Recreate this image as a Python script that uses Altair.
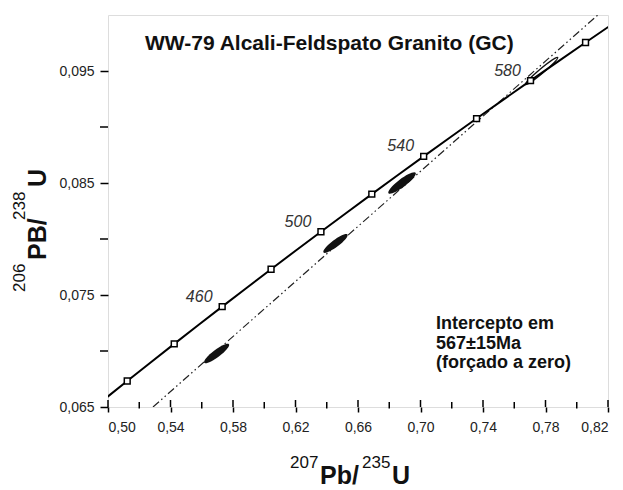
import altair as alt
import pandas as pd

# Concordia curve (age in Ma, 207Pb/235U, 206Pb/238U)
conc_age = [400, 410, 420, 430, 440, 450, 460, 470, 480, 490, 500, 510,
            520, 530, 540, 550, 560, 570, 580, 590, 600, 610, 620]
conc_x = [0.48281, 0.49748, 0.51230, 0.52727, 0.54239, 0.55765, 0.57307,
          0.58864, 0.60436, 0.62024, 0.63628, 0.65247, 0.66883, 0.68535,
          0.70203, 0.71887, 0.73588, 0.75307, 0.77041, 0.78794, 0.80563,
          0.82350, 0.84155]
conc_y = [0.064016, 0.065668, 0.067322, 0.068979, 0.070638, 0.072300,
          0.073965, 0.075632, 0.077302, 0.078975, 0.080650, 0.082327,
          0.084008, 0.085691, 0.087376, 0.089064, 0.090755, 0.092448,
          0.094144, 0.095843, 0.097544, 0.099248, 0.100955]

# Age ticks on concordia
marker_ages = [420, 440, 460, 480, 500, 520, 540, 560, 580, 600]
label_ages = [460, 500, 540, 580]

# Discordia (forced through zero, intercept 567 Ma)
disc_x = [0.5288, 0.8135]
disc_y = [0.065, 0.100]

# Error ellipses (centre, length in px)
ell_x = [0.5695, 0.6456, 0.6882]
ell_y = [0.06978, 0.0796, 0.0850]
ell_len = [31, 30, 34]
open_ell_x = [0.7775]
open_ell_y = [0.0950]
open_ell_len = [42]

x_labels = [0.50, 0.54, 0.58, 0.62, 0.66, 0.70, 0.74, 0.78, 0.82]
x_minor = [0.52, 0.56, 0.60, 0.64, 0.68, 0.72, 0.76, 0.80]
y_labels = [0.065, 0.075, 0.085, 0.095]
y_minor = [0.070, 0.080, 0.090]

title_text = "WW-79 Alcali-Feldspato Granito (GC)"
note_text = ["Intercepto em", "567±15Ma", "(forçado a zero)"]

FONT = "Liberation Sans"
W, H = 500, 392

conc = pd.DataFrame({"age": conc_age, "x": conc_x, "y": conc_y})
marks = conc[conc["age"].isin(marker_ages)]
labels = conc[conc["age"].isin(label_ages)].assign(lab=lambda d: d["age"].astype(str))
disc = pd.DataFrame({"x": disc_x, "y": disc_y})
ell = pd.DataFrame({"x": ell_x, "y": ell_y, "s": [v * v for v in ell_len]})
oell = pd.DataFrame({"x": open_ell_x, "y": open_ell_y, "s": [v * v for v in open_ell_len]})

xscale = alt.Scale(domain=[0.50, 0.82], nice=False, zero=False)
yscale = alt.Scale(domain=[0.065, 0.100], nice=False, zero=False)
xaxis = alt.Axis(values=x_labels, grid=False, domain=False, ticks=True, tickSize=5,
                 tickWidth=1.5, tickColor="black", labelFont=FONT, labelFontSize=14,
                 labelColor="#222", labelPadding=8, title=None,
                 labelExpr="replace(format(datum.value, '.2f'), '.', ',')")
yaxis = alt.Axis(values=y_labels, grid=False, domain=False, ticks=True, tickSize=8,
                 tickWidth=1.5, tickColor="black", labelFont=FONT, labelFontSize=14,
                 labelColor="#222", labelPadding=6, title=None,
                 labelExpr="replace(format(datum.value, '.3f'), '.', ',')")
X = alt.X("x:Q", scale=xscale, axis=xaxis)
Y = alt.Y("y:Q", scale=yscale, axis=yaxis)

ELL_PATH = "M -1 0 A 1 0.24 0 1 0 1 0 A 1 0.24 0 1 0 -1 0 Z"
THIN_PATH = "M -1 0 A 1 0.11 0 1 0 1 0 A 1 0.11 0 1 0 -1 0 Z"

disc_layer = alt.Chart(disc).mark_line(color="#222", strokeWidth=1.2, clip=True,
                                        strokeDash=[8, 3, 1.5, 3, 1.5, 3]).encode(x=X, y=Y)
ell_layer = alt.Chart(ell).mark_point(shape=ELL_PATH, filled=True, color="#111", opacity=1,
                                      angle=323).encode(x=X, y=Y, size=alt.Size("s:Q", scale=None))
oell_layer = alt.Chart(oell).mark_point(shape=THIN_PATH, filled=False, color="#111", opacity=1,
                                        strokeWidth=1.3, angle=320).encode(
    x=X, y=Y, size=alt.Size("s:Q", scale=None))
conc_layer = alt.Chart(conc).mark_line(color="black", strokeWidth=2, clip=True).encode(
    x=X, y=Y, order="age:Q")
mark_layer = alt.Chart(marks).mark_point(shape="square", filled=True, fill="white",
                                         stroke="black", strokeWidth=1.5, size=34,
                                         opacity=1).encode(x=X, y=Y)
lab_layer = alt.Chart(labels).mark_text(font=FONT, fontSize=16, fontStyle="italic",
                                        color="#333", dx=-23, dy=-10, align="center",
                                        baseline="middle").encode(x=X, y=Y, text="lab:N")

xmaj_in = alt.Chart(pd.DataFrame({"x": x_labels})).mark_rule(color="black", strokeWidth=1.5).encode(
    x=X, y=alt.value(H - 7), y2=alt.value(H))
xmin_t = alt.Chart(pd.DataFrame({"x": x_minor})).mark_rule(color="black", strokeWidth=1.5).encode(
    x=X, y=alt.value(H - 5), y2=alt.value(H + 1.5))
ymin_t = alt.Chart(pd.DataFrame({"y": y_minor})).mark_rule(color="black", strokeWidth=1.5).encode(
    y=Y, x=alt.value(-8), x2=alt.value(0))

title_layer = alt.Chart(pd.DataFrame({"t": [title_text]})).mark_text(
    font=FONT, fontSize=21, fontWeight="bold", color="#111", align="left",
    baseline="alphabetic").encode(x=alt.value(37), y=alt.value(35), text="t:N")
note_layer = alt.Chart(pd.DataFrame({"t": [0]})).mark_text(
    font=FONT, fontSize=18, fontWeight="bold", color="#111", align="left",
    baseline="alphabetic", lineHeight=19.5).encode(
    x=alt.value(328), y=alt.value(314), text=alt.value(note_text))

def piece(txt, px, py, size, bold, angle=0):
    kw = dict(font=FONT, fontSize=size, color="#111", align="left", baseline="alphabetic")
    if bold:
        kw["fontWeight"] = "bold"
    if angle:
        kw["angle"] = angle
    return alt.Chart(pd.DataFrame({"t": [txt]})).mark_text(**kw).encode(
        x=alt.value(px), y=alt.value(py), text="t:N")

xt = [piece("207", 182, 453, 17, False), piece("Pb/", 212, 469, 25, True),
      piece("235", 254, 453, 17, False), piece("U", 284, 469, 25, True)]
yt = [piece("206", -83, 277, 17, False, 270), piece("PB/", -62, 245, 25, True, 270),
      piece("238", -83, 205, 17, False, 270), piece("U", -62, 172, 25, True, 270)]

chart = alt.layer(
    disc_layer, ell_layer, oell_layer, conc_layer, mark_layer, lab_layer,
    xmaj_in, xmin_t, ymin_t, title_layer, note_layer, *xt, *yt
).properties(
    width=W, height=H,
    autosize=alt.AutoSizeParams(type="none"),
    padding={"left": 100, "top": 7, "right": 7, "bottom": 83},
).configure_view(stroke="black", strokeWidth=2).configure(background="white")

chart.save("out.html", embed_options={"renderer": "svg", "actions": False})
